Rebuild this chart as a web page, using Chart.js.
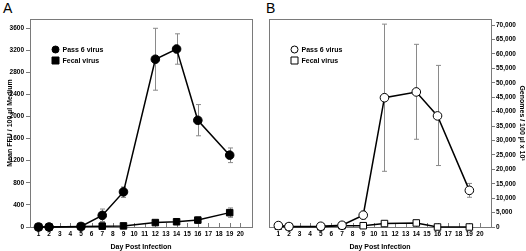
<!DOCTYPE html>
<html>
<head>
<meta charset="utf-8">
<script src="https://cdn.jsdelivr.net/npm/chart.js@4.4.1/dist/chart.umd.min.js"></script>
<style>
  html, body { margin: 0; padding: 0; background: #fff; }
  #wrap { position: relative; width: 526px; height: 251px; overflow: hidden; }
  .panel { position: absolute; top: 0; width: 263px; height: 251px; }
  .lbl { position: absolute; top: 0; font: 14px "Liberation Sans", Arial, sans-serif; color: #000; }
</style>
</head>
<body>
<div id="wrap">
  <div class="lbl" style="left:3px">A</div>
  <div class="lbl" style="left:266px">B</div>
  <div class="panel" style="left:0"><canvas id="chart-a" width="263" height="251"></canvas></div>
  <div class="panel" style="left:263px"><canvas id="chart-b" width="263" height="251"></canvas></div>
</div>
<script>
const dayTicks = [1,2,3,4,5,6,7,8,9,10,11,12,13,14,15,16,17,18,19,20];

// Panel A - infectious virus (FFU)
const daysA = [1, 2, 5, 7, 9, 12, 14, 16, 19];
const passA = [0, 0, 10, 210, 635, 3035, 3220, 1930, 1300];
const passAHi = [40, 30, 40, 325, 725, 3595, 3495, 2215, 1430];
const passALo = [0, 0, 0, 100, 535, 2475, 2945, 1650, 1165];
const fecalA = [0, 0, 10, 15, 20, 80, 95, 125, 260];
const fecalAHi = [20, 20, 30, 80, 60, 110, 130, 180, 345];
const fecalALo = [0, 0, 0, 0, 0, 50, 60, 70, 175];
const ticksA = [0, 400, 800, 1200, 1600, 2000, 2400, 2800, 3200, 3600];

// Panel B - genomes
const daysB = [1, 2, 5, 7, 9, 11, 14, 16, 19];
const passB = [500, 150, 250, 600, 4100, 44800, 46800, 38500, 12700];
const passBHi = [1300, 400, 500, 1000, 5500, 70300, 63300, 56000, 15100];
const passBLo = [0, 0, 0, 200, 2800, 19300, 30400, 21300, 10300];
const fecalB = [300, 100, 100, 450, 450, 1200, 1400, 0, 0];
const fecalBHi = [800, 200, 200, 900, 700, 1500, 2000, 100, 100];
const fecalBLo = [0, 0, 0, 0, 200, 900, 800, 0, 0];
const ticksB = [0, 5000, 10000, 15000, 20000, 25000, 30000, 35000, 40000, 45000, 50000, 55000, 60000, 65000, 70000];

const legendNames = ['Pass 6 virus', 'Fecal virus'];
const FONT = '"Liberation Sans", Arial, sans-serif';
const GRAY = '#7a7a7a';

const toPoints = (xs, ys) => xs.map((x, i) => ({ x, y: ys[i] }));

const framePlugin = {
  id: 'frame',
  beforeDatasetsDraw(chart) {
    const { ctx, chartArea: a, scales } = chart;
    ctx.save();
    ctx.strokeStyle = GRAY;
    ctx.lineWidth = 1;
    ctx.strokeRect(a.left + 0.5, a.top + 0.5, a.right - a.left, a.bottom - a.top);
    // inward x ticks
    ctx.beginPath();
    dayTicks.forEach((d) => {
      const x = Math.round(scales.x.getPixelForValue(d)) + 0.5;
      ctx.moveTo(x, a.bottom);
      ctx.lineTo(x, a.bottom - 4);
    });
    ctx.stroke();
    // error bars
    ctx.strokeStyle = '#8a8a8a';
    chart.data.datasets.forEach((ds) => {
      ds.hi.forEach((h, i) => {
        const x = Math.round(scales.x.getPixelForValue(ds.data[i].x)) + 0.5;
        const yh = scales.y.getPixelForValue(h);
        const yl = scales.y.getPixelForValue(ds.lo[i]);
        ctx.beginPath();
        ctx.moveTo(x, yh);
        ctx.lineTo(x, yl);
        ctx.moveTo(x - 2.5, yh);
        ctx.lineTo(x + 2.5, yh);
        ctx.moveTo(x - 2.5, yl);
        ctx.lineTo(x + 2.5, yl);
        ctx.stroke();
      });
    });
    ctx.restore();
  },
};

const legendPlugin = {
  id: 'insideLegend',
  afterDatasetsDraw(chart) {
    const { ctx, chartArea: a } = chart;
    ctx.save();
    ctx.font = 'bold 7px ' + FONT;
    ctx.textBaseline = 'middle';
    chart.data.datasets.forEach((ds, i) => {
      const x = a.left + 25.5;
      const y = a.top + 30.5 + i * 11;
      ctx.fillStyle = ds.pointBackgroundColor;
      ctx.strokeStyle = '#000';
      ctx.lineWidth = 1;
      ctx.beginPath();
      if (ds.pointStyle === 'circle') ctx.arc(x, y, 3.5, 0, Math.PI * 2);
      else ctx.rect(x - 3.5, y - 3.5, 7, 7);
      ctx.fill();
      ctx.stroke();
      ctx.fillStyle = '#000';
      ctx.fillText(ds.label, x + 7, y + 0.5);
    });
    ctx.restore();
  },
};

const series = (label, xs, ys, hi, lo, style, fill) => ({
  label,
  data: toPoints(xs, ys),
  hi,
  lo,
  showLine: true,
  borderColor: '#000',
  borderWidth: 1.5,
  pointStyle: style,
  pointRadius: style === 'circle' ? 4.3 : 4.6,
  pointBackgroundColor: fill,
  pointBorderColor: '#000',
  pointBorderWidth: 1,
  clip: false,
});

const tickFont = { size: 6.5, weight: 'bold', family: FONT };
const titleFont = { size: 7, weight: 'bold', family: FONT };

const baseX = (min, max) => ({
  type: 'linear',
  min,
  max,
  afterBuildTicks: (s) => { s.ticks = dayTicks.map((v) => ({ value: v })); },
  afterFit: (s) => { s.height = 24; },
  grid: { display: false, drawTicks: false },
  border: { display: false },
  ticks: { color: '#000', font: tickFont, padding: 3, autoSkip: false, maxRotation: 0 },
  title: { display: true, text: 'Day Post Infection', color: '#000', font: titleFont, padding: { top: 2, bottom: 0 } },
});

const commonOpts = {
  responsive: false,
  animation: false,
  events: [],
  plugins: { legend: { display: false }, tooltip: { enabled: false } },
};

new Chart(document.getElementById('chart-a').getContext('2d'), {
  type: 'scatter',
  data: {
    datasets: [
      series(legendNames[0], daysA, passA, passAHi, passALo, 'circle', '#000'),
      series(legendNames[1], daysA, fecalA, fecalAHi, fecalALo, 'rect', '#000'),
    ],
  },
  options: {
    ...commonOpts,
    layout: { padding: { top: 19, right: 11, left: 0, bottom: 0 } },
    scales: {
      x: baseX(0.2, 21.1),
      y: {
        min: 0,
        max: 3763,
        afterBuildTicks: (s) => { s.ticks = ticksA.map((v) => ({ value: v })); },
        afterFit: (s) => { s.width = 30; },
        grid: { drawOnChartArea: false, drawTicks: true, tickLength: 4, color: GRAY },
        border: { display: false },
        ticks: { color: '#000', font: tickFont, padding: 2, callback: (v) => String(v) },
        title: { display: true, text: 'Mean FFU / 100 µl Medium', color: '#000', font: titleFont, padding: { top: 6, bottom: 0 } },
      },
    },
  },
  plugins: [framePlugin, legendPlugin],
});

new Chart(document.getElementById('chart-b').getContext('2d'), {
  type: 'scatter',
  data: {
    datasets: [
      series(legendNames[0], daysB, passB, passBHi, passBLo, 'circle', '#fff'),
      series(legendNames[1], daysB, fecalB, fecalBHi, fecalBLo, 'rect', '#fff'),
    ],
  },
  options: {
    ...commonOpts,
    layout: { padding: { top: 19, right: 0, left: 6, bottom: 0 } },
    scales: {
      x: baseX(0.12, 21.04),
      y: {
        position: 'right',
        min: 0,
        max: 72080,
        afterBuildTicks: (s) => { s.ticks = ticksB.map((v) => ({ value: v })); },
        afterFit: (s) => { s.width = 35; },
        grid: { drawOnChartArea: false, drawTicks: true, tickLength: 4, color: GRAY },
        border: { display: false },
        ticks: { color: '#000', font: tickFont, padding: 1, callback: (v) => v.toLocaleString('en-US') },
        title: { display: true, text: 'Genomes / 100 µl x 10³', color: '#000', font: titleFont, padding: { top: 0, bottom: 2 } },
      },
    },
  },
  plugins: [framePlugin, legendPlugin],
});
</script>
</body>
</html>
